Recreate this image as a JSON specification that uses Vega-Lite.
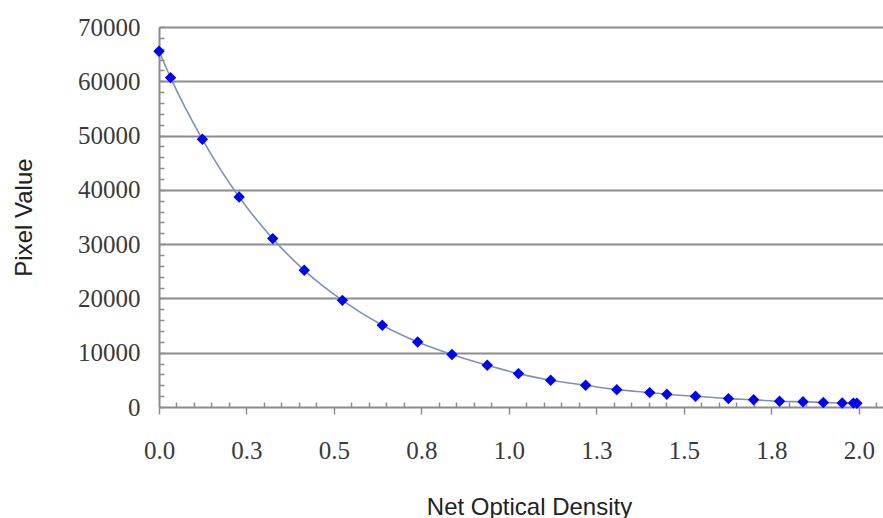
{
  "$schema": "https://vega.github.io/schema/vega-lite/v6.json",
  "autosize": {"type": "none"},
  "padding": {"left": 159, "top": 27, "right": 0, "bottom": 111},
  "width": 724,
  "height": 380,
  "background": "white",
  "config": {
    "view": {"stroke": null},
    "axis": {
      "labelFont": "Liberation Serif",
      "labelFontSize": 25,
      "labelColor": "#3a3a3a",
      "titleFont": "Liberation Sans",
      "titleFontSize": 24,
      "titleFontWeight": "normal",
      "titleColor": "#222222",
      "domainColor": "#8c8c8c",
      "domainWidth": 2,
      "tickColor": "#8c8c8c",
      "tickWidth": 1.5,
      "gridColor": "#8c8c8c",
      "gridWidth": 2
    }
  },
  "data": {
    "values": [
      {"density": 0.0, "pixel": 65535},
      {"density": 0.033, "pixel": 60670},
      {"density": 0.124, "pixel": 49310},
      {"density": 0.229, "pixel": 38680},
      {"density": 0.325, "pixel": 31020},
      {"density": 0.415, "pixel": 25180},
      {"density": 0.524, "pixel": 19650},
      {"density": 0.638, "pixel": 15050},
      {"density": 0.739, "pixel": 11970},
      {"density": 0.837, "pixel": 9670},
      {"density": 0.938, "pixel": 7680},
      {"density": 1.027, "pixel": 6150},
      {"density": 1.119, "pixel": 4920},
      {"density": 1.219, "pixel": 4000},
      {"density": 1.308, "pixel": 3200},
      {"density": 1.402, "pixel": 2650},
      {"density": 1.451, "pixel": 2340},
      {"density": 1.533, "pixel": 1970},
      {"density": 1.627, "pixel": 1550},
      {"density": 1.699, "pixel": 1330},
      {"density": 1.773, "pixel": 1050},
      {"density": 1.84, "pixel": 960},
      {"density": 1.898, "pixel": 830},
      {"density": 1.952, "pixel": 740},
      {"density": 1.984, "pixel": 720},
      {"density": 1.994, "pixel": 700}
    ]
  },
  "encoding": {
    "x": {
      "field": "density",
      "type": "quantitative",
      "scale": {"domain": [0, 2.0686], "nice": false, "zero": false},
      "axis": {
        "title": "Net Optical Density",
        "titleX": 370,
        "titleY": 100,
        "titleBaseline": "middle",
        "format": ".1f",
        "values": [0, 0.05, 0.1, 0.15, 0.2, 0.25, 0.3, 0.35, 0.4, 0.45, 0.5, 0.55, 0.6, 0.65, 0.7, 0.75, 0.8, 0.85, 0.9, 0.95, 1, 1.05, 1.1, 1.15, 1.2, 1.25, 1.3, 1.35, 1.4, 1.45, 1.5, 1.55, 1.6, 1.65, 1.7, 1.75, 1.8, 1.85, 1.9, 1.95, 2, 2.05],
        "labelExpr": "abs(datum.value * 4 - round(datum.value * 4)) < 0.001 ? datum.label : ''",
        "labelOverlap": false,
        "labelFlush": false,
        "labelPadding": 24,
        "tickSize": {"condition": {"test": "abs(datum.value * 4 - round(datum.value * 4)) < 0.001", "value": 7}, "value": -5},
        "grid": false
      }
    },
    "y": {
      "field": "pixel",
      "type": "quantitative",
      "scale": {"domain": [0, 70000], "nice": false},
      "axis": {
        "title": "Pixel Value",
        "titleX": -135,
        "titleY": 190,
        "titleAngle": -90,
        "titleAlign": "center",
        "titleBaseline": "middle",
        "format": "d",
        "values": [0, 2000, 4000, 6000, 8000, 10000, 12000, 14000, 16000, 18000, 20000, 22000, 24000, 26000, 28000, 30000, 32000, 34000, 36000, 38000, 40000, 42000, 44000, 46000, 48000, 50000, 52000, 54000, 56000, 58000, 60000, 62000, 64000, 66000, 68000, 70000],
        "labelExpr": "datum.value % 10000 === 0 ? datum.label : ''",
        "labelOverlap": false,
        "labelPadding": 24,
        "labelBaseline": "middle",
        "tickSize": -5,
        "grid": true,
        "gridOpacity": {"condition": {"test": "datum.value % 10000 === 0 && datum.value > 0", "value": 1}, "value": 0}
      }
    }
  },
  "layer": [
    {
      "mark": {"type": "line", "interpolate": "monotone", "color": "#7f92b5", "strokeWidth": 1.6}
    },
    {
      "mark": {"type": "point", "shape": "diamond", "filled": true, "color": "#0000ff", "opacity": 1, "size": 130}
    }
  ]
}
